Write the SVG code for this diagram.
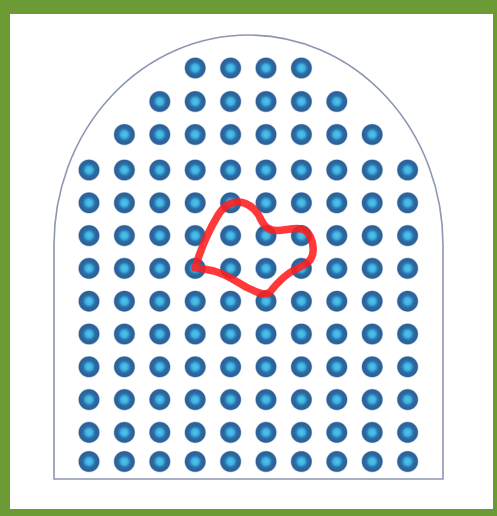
<svg xmlns="http://www.w3.org/2000/svg" xmlns:xlink="http://www.w3.org/1999/xlink" width="497" height="516" viewBox="0 0 497 516">
  <defs>
    <radialGradient id="dotGrad" cx="0.5" cy="0.5" r="0.5">
      <stop offset="0" stop-color="#50c4ee"/>
      <stop offset="0.32" stop-color="#3fb0e0"/>
      <stop offset="0.5" stop-color="#2f7cb4"/>
      <stop offset="0.62" stop-color="#2b6aa2"/>
      <stop offset="0.9" stop-color="#2c5f96"/>
      <stop offset="1" stop-color="#5a84b0" stop-opacity="0.5"/>
    </radialGradient>
    <circle id="dot" r="10.8" fill="url(#dotGrad)"/>
  </defs>
  <style>
    .arch { fill: none; stroke: #8d96b2; stroke-width: 1.6; }
    .loop { fill: none; stroke: #ff1e1e; stroke-width: 7.5; stroke-linejoin: round; opacity: 0.88; }
  </style>
  <rect x="0" y="0" width="497" height="516" fill="#6c9a34"/>
  <rect x="10" y="14" width="483" height="495" fill="#ffffff"/>
  <path class="arch" d="M54,479 L54,245 A194.5,210 0 0 1 443,245 L443,479 Z"/>
  <g id="dots">
    <use xlink:href="#dot" x="195.2" y="68"/>
    <use xlink:href="#dot" x="230.6" y="68"/>
    <use xlink:href="#dot" x="266" y="68"/>
    <use xlink:href="#dot" x="301.4" y="68"/>

    <use xlink:href="#dot" x="159.8" y="101.5"/>
    <use xlink:href="#dot" x="195.2" y="101.5"/>
    <use xlink:href="#dot" x="230.6" y="101.5"/>
    <use xlink:href="#dot" x="266" y="101.5"/>
    <use xlink:href="#dot" x="301.4" y="101.5"/>
    <use xlink:href="#dot" x="336.8" y="101.5"/>

    <use xlink:href="#dot" x="124.4" y="134.5"/>
    <use xlink:href="#dot" x="159.8" y="134.5"/>
    <use xlink:href="#dot" x="195.2" y="134.5"/>
    <use xlink:href="#dot" x="230.6" y="134.5"/>
    <use xlink:href="#dot" x="266" y="134.5"/>
    <use xlink:href="#dot" x="301.4" y="134.5"/>
    <use xlink:href="#dot" x="336.8" y="134.5"/>
    <use xlink:href="#dot" x="372.2" y="134.5"/>
  </g>
  <g id="grid">
    <g id="row4" transform="translate(0,170)">
      <use xlink:href="#dot" x="89"/><use xlink:href="#dot" x="124.4"/><use xlink:href="#dot" x="159.8"/><use xlink:href="#dot" x="195.2"/><use xlink:href="#dot" x="230.6"/><use xlink:href="#dot" x="266"/><use xlink:href="#dot" x="301.4"/><use xlink:href="#dot" x="336.8"/><use xlink:href="#dot" x="372.2"/><use xlink:href="#dot" x="407.6"/>
    </g>
    <use xlink:href="#row4" y="32.8"/>
    <use xlink:href="#row4" y="65.6"/>
    <use xlink:href="#row4" y="98.4"/>
    <use xlink:href="#row4" y="131.2"/>
    <use xlink:href="#row4" y="164"/>
    <use xlink:href="#row4" y="196.8"/>
    <use xlink:href="#row4" y="229.6"/>
    <use xlink:href="#row4" y="262.4"/>
    <use xlink:href="#row4" y="291.5"/>
  </g>
  <path class="loop" d="M195,268 C199,255 206,235 217,217 C222,208 228,203 236,202 C246,201 253,207 258,214 C262,221 264,228 272,230 C282,232 292,227 302,229 C310,232 314,242 313,252 C312,262 305,265 296,269 C286,274 277,283 270,292 C266,296 258,293 248,288 C238,283 228,275 214,271 C205,269 199,268 195,268 Z"/>
</svg>
